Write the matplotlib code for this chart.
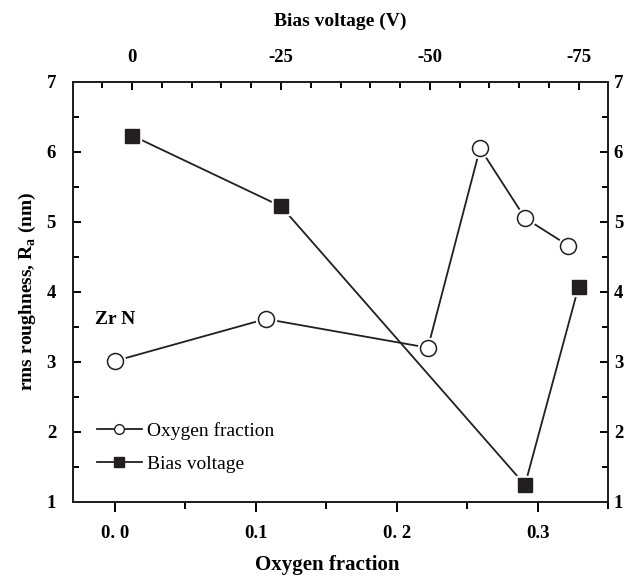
import numpy as np
import matplotlib
matplotlib.use("Agg")
from matplotlib import pyplot as plt
from matplotlib.ticker import MultipleLocator
from matplotlib.lines import Line2D

plt.rcParams['font.family'] = ['Liberation Serif', 'DejaVu Serif']
plt.rcParams['mathtext.fontset'] = 'custom'
plt.rcParams['mathtext.rm'] = 'Liberation Serif:bold'
plt.rcParams['mathtext.bf'] = 'Liberation Serif:bold'

# Oxygen fraction series (bottom axis)
oxygen_x = [0.0, 0.107, 0.222, 0.259, 0.291, 0.3215]
oxygen_ra = [3.01, 3.61, 3.20, 6.05, 5.05, 4.66]

# Bias voltage series (top axis)
bias_v = [0, -25, -66, -75]
bias_ra = [6.23, 5.22, 1.24, 4.07]

x_ticks = [0.0, 0.1, 0.2, 0.3]
x_ticklabels = ["0. 0", "0.1", "0. 2", "0.3"]
top_ticks = [0, -25, -50, -75]
top_ticklabels = ["0", "-25", "-50", "-75"]
y_ticks = [1, 2, 3, 4, 5, 6, 7]

ink = '#231f20'
lw = 1.3

fig = plt.figure(figsize=(6.29, 5.77), dpi=100)
ax = fig.add_axes([0.1156, 0.1305, 0.8515, 0.7279])
ax2 = ax.twiny()
ax3 = ax.twinx()

# oxygen fraction: line, white halo, hollow circle
ax.plot(oxygen_x, oxygen_ra, color=ink, lw=lw, zorder=2)
ax.plot(oxygen_x, oxygen_ra, ls='none', marker='o', ms=14.5,
        mfc='white', mec='white', zorder=3)
ax.plot(oxygen_x, oxygen_ra, ls='none', marker='o', ms=11.5,
        mfc='white', mec=ink, mew=1.1, zorder=4)

# bias voltage: line, white halo, filled square
ax2.plot(bias_v, bias_ra, color=ink, lw=lw, zorder=2)
ax2.plot(bias_v, bias_ra, ls='none', marker='s', ms=13,
         mfc='white', mec='white', zorder=3)
ax2.plot(bias_v, bias_ra, ls='none', marker='s', ms=10.5,
         mfc=ink, mec=ink, zorder=4)

ax.set_xlim(-0.03, 0.35)
ax.set_ylim(1, 7)
ax2.set_xlim(10, -80)
ax3.set_ylim(1, 7)

for a in (ax, ax2, ax3):
    for s in a.spines.values():
        s.set_linewidth(1.4)
        s.set_color(ink)

# bottom axis
ax.set_xticks(x_ticks)
ax.set_xticklabels(x_ticklabels, fontweight='bold')
ax.xaxis.set_minor_locator(MultipleLocator(0.05))
ax.tick_params(axis='x', which='major', direction='out', length=7, width=1.4,
               pad=10, labelsize=13.5)
ax.tick_params(axis='x', which='minor', direction='out', length=5, width=1.4)

# left axis
ax.set_yticks(y_ticks)
ax.set_yticklabels([str(v) for v in y_ticks], fontweight='bold')
ax.yaxis.set_minor_locator(MultipleLocator(0.5))
ax.tick_params(axis='y', which='major', direction='in', length=6, width=1.4,
               pad=12, labelsize=13.5)
ax.tick_params(axis='y', which='minor', direction='in', length=4, width=1.4)

# right axis
ax3.set_yticks(y_ticks)
ax3.set_yticklabels([str(v) for v in y_ticks], fontweight='bold')
ax3.yaxis.set_minor_locator(MultipleLocator(0.5))
ax3.tick_params(axis='y', which='major', direction='in', length=6, width=1.4,
                pad=4, labelsize=13.5)
ax3.tick_params(axis='y', which='minor', direction='in', length=4, width=1.4)

# top axis
ax2.set_xticks(top_ticks)
ax2.set_xticklabels(top_ticklabels, fontweight='bold')
ax2.xaxis.set_minor_locator(MultipleLocator(5))
ax2.tick_params(axis='x', which='major', direction='in', length=6, width=1.4,
                pad=11, labelsize=13.5)
ax2.tick_params(axis='x', which='minor', direction='in', length=4, width=1.4)
ax2.set_xlabel("Bias voltage (V)", fontsize=14, fontweight='bold', labelpad=17)

ax.set_ylabel(r"rms roughness, R$_{\mathrm{a}}$ (nm)", fontsize=14,
              fontweight='bold', labelpad=6)
fig.text(0.52, 0.003, "Oxygen fraction", fontsize=15, fontweight='bold',
         ha='center', va='bottom')

ax.text(0.042, 3.6, "Zr N", transform=ax.get_yaxis_transform(), fontsize=14,
        fontweight='bold', va='center', ha='left')

# legend
h1 = Line2D([], [], color=ink, lw=lw, marker='o', ms=7, mfc='white',
            mec=ink, mew=1.0)
h2 = Line2D([], [], color=ink, lw=lw, marker='s', ms=7, mfc=ink, mec=ink)
ax.legend([h1, h2], ["Oxygen fraction", "Bias voltage"], loc='upper left',
          bbox_to_anchor=(0.02, 0.222), frameon=False, fontsize=14,
          handlelength=2.3, handletextpad=0.25, labelspacing=0.78,
          borderpad=0.2)

fig.savefig("out.png", dpi=100)
